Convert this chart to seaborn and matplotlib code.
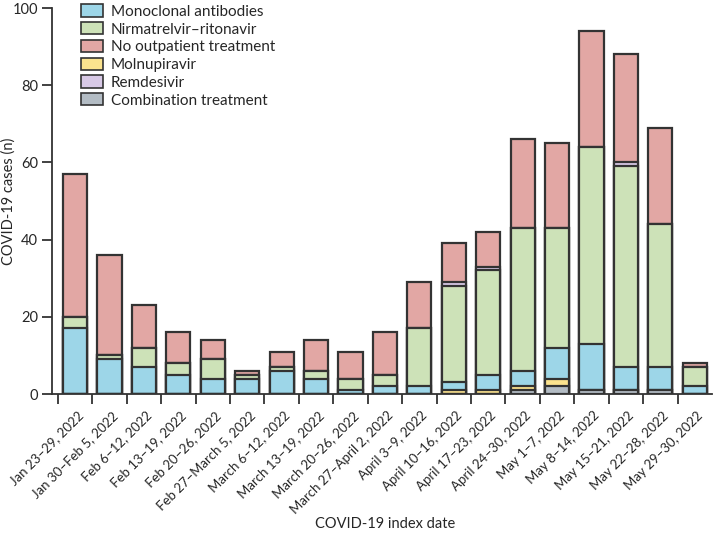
import numpy as np
import pandas as pd
import matplotlib
matplotlib.use("Agg")
import matplotlib.pyplot as plt
from matplotlib.patches import Patch
import seaborn as sns

weeks = ["Jan 23–29, 2022", "Jan 30–Feb 5, 2022", "Feb 6–12, 2022", "Feb 13–19, 2022",
         "Feb 20–26, 2022", "Feb 27–March 5, 2022", "March 6–12, 2022", "March 13–19, 2022",
         "March 20–26, 2022", "March 27–April 2, 2022", "April 3–9, 2022", "April 10–16, 2022",
         "April 17–23, 2022", "April 24–30, 2022", "May 1–7, 2022", "May 8–14, 2022",
         "May 15–21, 2022", "May 22–28, 2022", "May 29–30, 2022"]

combination = [0, 0, 0, 0, 0, 0, 0, 0, 0, 0, 0, 0, 0, 1, 2, 1, 1, 1, 0]
molnupiravir = [0, 0, 0, 0, 0, 0, 0, 0, 0, 0, 0, 1, 1, 1, 2, 0, 0, 0, 0]
monoclonal = [17, 9, 7, 5, 4, 4, 6, 4, 1, 2, 2, 2, 4, 4, 8, 12, 6, 6, 2]
nirmatrelvir = [3, 1, 5, 3, 5, 1, 1, 2, 3, 3, 15, 25, 27, 37, 31, 51, 52, 37, 5]
remdesivir = [0, 0, 0, 0, 0, 0, 0, 0, 0, 0, 0, 1, 1, 0, 0, 0, 1, 0, 0]
no_treatment = [37, 26, 11, 8, 5, 1, 4, 8, 7, 11, 12, 10, 9, 23, 22, 30, 28, 25, 1]

series_names = ["Combination treatment", "Molnupiravir", "Monoclonal antibodies",
                "Nirmatrelvir–ritonavir", "Remdesivir", "No outpatient treatment"]
series_values = [combination, molnupiravir, monoclonal, nirmatrelvir, remdesivir, no_treatment]
colors = {"Combination treatment": "#b3bcc4",
          "Molnupiravir": "#fbe38e",
          "Monoclonal antibodies": "#9dd6e8",
          "Nirmatrelvir–ritonavir": "#cde2b8",
          "Remdesivir": "#d8c9e6",
          "No outpatient treatment": "#e2a7a4"}
legend_order = ["Monoclonal antibodies", "Nirmatrelvir–ritonavir", "No outpatient treatment",
                "Molnupiravir", "Remdesivir", "Combination treatment"]

sns.set_style("ticks")
plt.rcParams["font.family"] = ["Lato", "DejaVu Sans"]

fig = plt.figure(figsize=(7.14, 5.33), dpi=100)
ax = fig.add_axes([52 / 714, 1 - 394 / 533, (712 - 52) / 714, 386 / 533])

cum = np.cumsum(np.array(series_values), axis=0)
edge = "#333333"
for i in range(len(series_names) - 1, -1, -1):
    df = pd.DataFrame({"week": weeks, "value": cum[i]})
    sns.barplot(data=df, x="week", y="value", order=weeks, color=colors[series_names[i]],
                saturation=1, width=0.7, edgecolor=edge, linewidth=1.6, ax=ax, errorbar=None)

ax.set_ylim(0, 100)
ax.set_xlim(-0.67, 18.5)
ax.set_yticks([0, 20, 40, 60, 80, 100])
ax.tick_params(axis="y", labelsize=10.5, length=7, width=1.3, color=edge, pad=3)

ax.set_xticks(np.arange(len(weeks)) + 0.05)
ax.set_xticklabels(weeks, rotation=45, ha="right", rotation_mode="anchor", fontsize=9.5)
ax.tick_params(axis="x", which="major", length=0, pad=11)
ax.set_xticks(np.arange(len(weeks)) - 0.5, minor=True)
ax.tick_params(axis="x", which="minor", length=7, width=1.3, color=edge)

for s in ["top", "right"]:
    ax.spines[s].set_visible(False)
for s in ["left", "bottom"]:
    ax.spines[s].set_linewidth(1.3)
    ax.spines[s].set_color(edge)

ax.set_ylabel("")
ax.set_xlabel("")
fig.text(9 / 714, 1 - 201 / 533, "COVID-19 cases (n)", rotation=90, ha="center", va="center",
         fontsize=10.5)
fig.text(385 / 714, 1 - 524 / 533, "COVID-19 index date", ha="center", va="center",
         fontsize=10.5)

handles = [Patch(facecolor=colors[n], edgecolor=edge, linewidth=1.2, label=n) for n in legend_order]
ax.legend(handles=handles, loc="upper left", bbox_to_anchor=(0.034, 1.025), frameon=False,
          fontsize=11, handlelength=1.5, handleheight=0.85, handletextpad=0.5,
          labelspacing=0.22, borderaxespad=0)

fig.savefig("out.png", dpi=100)
